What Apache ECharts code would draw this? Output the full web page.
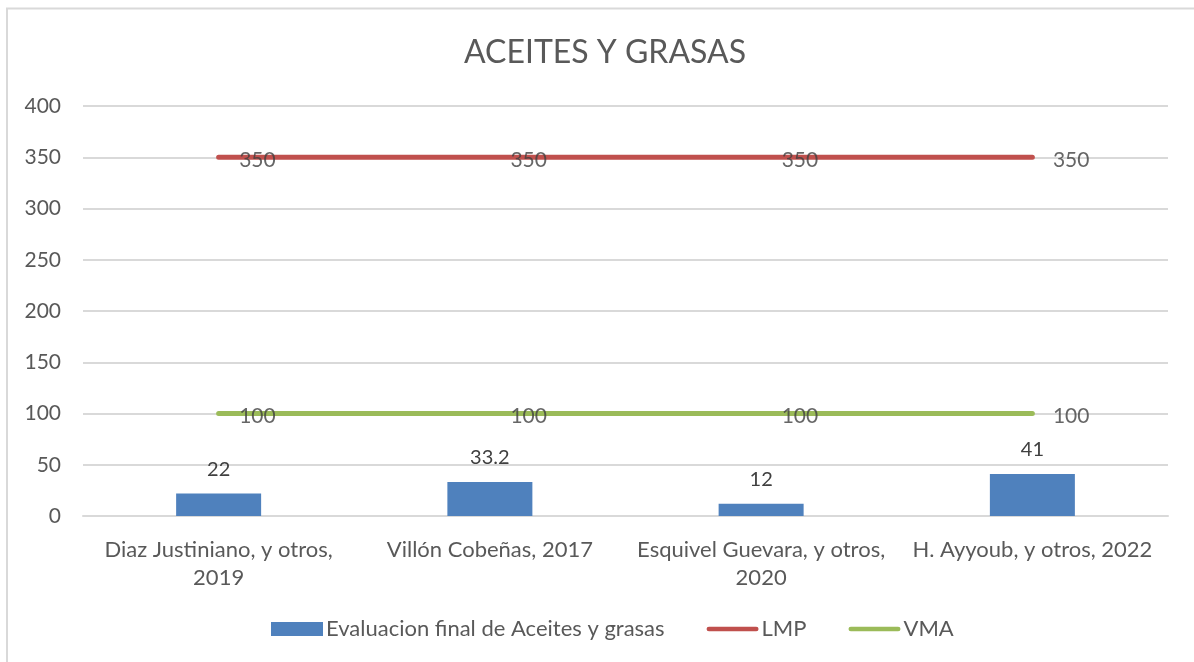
<!DOCTYPE html>
<html>
<head>
<meta charset="utf-8">
<script src="https://cdn.jsdelivr.net/npm/echarts@6/dist/echarts.min.js"></script>
<style>
  html, body { margin: 0; padding: 0; background: #fff; }
  #main { width: 1194px; height: 662px; }
</style>
</head>
<body>
<div id="main"></div>
<script>
  // data
  var categories = ['Diaz Justiniano, y otros,\n2019', 'Villón Cobeñas, 2017', 'Esquivel Guevara, y otros,\n2020', 'H. Ayyoub, y otros, 2022']
  var evaluacion = [22, 33.2, 12, 41]
  var lmp = [350, 350, 350, 350]
  var vma = [100, 100, 100, 100]

  var font = 'Lato, "Open Sans", sans-serif'
  var lineIcon = 'path://M2.5,0 L52.5,0 A2.5,2.5 0 0 1 52.5,5 L2.5,5 A2.5,2.5 0 0 1 2.5,0 Z'
  var chart = echarts.init(document.getElementById('main'))

  // labels for the flat lines, drawn with an invisible scatter so the lines keep no symbols
  function lineLabels(data) {
    return {
      type: 'scatter',
      data: data,
      symbolSize: 1,
      itemStyle: { color: 'rgba(0,0,0,0)' },
      silent: true,
      z: 5,
      label: { show: true, position: 'right', distance: 20, offset: [0, 3], fontFamily: font, fontSize: 21, color: '#404040' }
    }
  }

  var option = {
    backgroundColor: '#fff',
    textStyle: { fontFamily: font },
    title: {
      text: 'ACEITES Y GRASAS',
      left: 459,
      top: 32,
      textStyle: { fontFamily: font, fontSize: 32, fontWeight: 'normal', color: '#595959' }
    },
    graphic: [{
      type: 'rect',
      shape: { x: 7, y: 8.5, width: 1250, height: 700 },
      style: { fill: null, stroke: '#d9d9d9', lineWidth: 2 },
      silent: true
    }],
    legend: {
      bottom: 17,
      left: 266,
      itemWidth: 52,
      itemHeight: 14,
      itemGap: 42,
      textStyle: { fontFamily: font, fontSize: 22, color: '#595959', padding: [0, 0, 0, -2] },
      data: [
        { name: 'Evaluacion final de Aceites y grasas', icon: 'rect' },
        { name: 'LMP', icon: lineIcon },
        { name: 'VMA', icon: lineIcon }
      ]
    },
    grid: {
      left: 83,
      right: 26,
      top: 106,
      bottom: 146
    },
    xAxis: {
      type: 'category',
      data: categories,
      axisLine: { show: true, lineStyle: { color: '#d9d9d9', width: 2 } },
      axisTick: { show: false },
      axisLabel: { fontFamily: font, fontSize: 22, color: '#595959', lineHeight: 28, margin: 20, interval: 0 }
    },
    yAxis: {
      type: 'value',
      min: 0,
      max: 400,
      interval: 50,
      axisLine: { show: false },
      axisTick: { show: false },
      splitLine: { lineStyle: { color: '#d9d9d9', width: 2 } },
      axisLabel: { fontFamily: font, fontSize: 21, color: '#595959', margin: 22 }
    },
    series: [
      {
        name: 'Evaluacion final de Aceites y grasas',
        type: 'bar',
        data: evaluacion,
        barWidth: 85,
        itemStyle: { color: '#4f81bd' },
        label: { show: true, position: 'top', distance: 14, fontFamily: font, fontSize: 20, color: '#404040' }
      },
      {
        name: 'LMP',
        type: 'line',
        data: lmp,
        symbol: 'none',
        lineStyle: { color: '#c0504d', width: 5, cap: 'round' },
        itemStyle: { color: '#c0504d' }
      },
      {
        name: 'VMA',
        type: 'line',
        data: vma,
        symbol: 'none',
        lineStyle: { color: '#9bbb59', width: 5, cap: 'round' },
        itemStyle: { color: '#9bbb59' }
      },
      lineLabels(lmp),
      lineLabels(vma)
    ]
  }

  chart.setOption(option)
</script>
</body>
</html>
